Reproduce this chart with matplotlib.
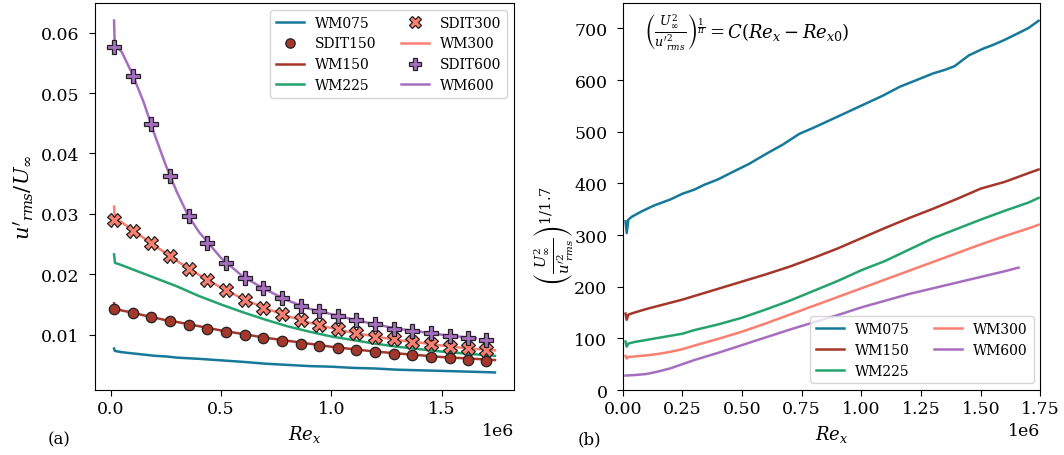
import numpy as np
import matplotlib
matplotlib.use("Agg")
import matplotlib.pyplot as plt
from matplotlib.ticker import MultipleLocator

plt.rcParams['font.family'] = ['DejaVu Serif']
plt.rcParams['mathtext.fontset'] = 'dejavuserif'
plt.rcParams['font.size'] = 12
plt.rcParams['xtick.labelsize'] = 12.5
plt.rcParams['ytick.labelsize'] = 12.5
plt.rcParams['xtick.major.size'] = 4
plt.rcParams['ytick.major.size'] = 4
plt.rcParams['ytick.major.pad'] = 7
plt.rcParams['axes.labelsize'] = 13

# ---------------- data (Re_x in units of 1e6) ----------------
# SDIT measurement stations
sdit_x = [0.015, 0.100, 0.184, 0.269, 0.353, 0.438, 0.523, 0.607, 0.692, 0.776,
          0.861, 0.946, 1.030, 1.114, 1.198, 1.283, 1.367, 1.452, 1.536, 1.621, 1.700]
sdit150 = [0.0143, 0.01364, 0.01291, 0.01225, 0.01159, 0.01099, 0.01043, 0.00988,
           0.00939, 0.00894, 0.00851, 0.00811, 0.00778, 0.0074, 0.00712, 0.00685,
           0.00657, 0.00629, 0.00608, 0.00586, 0.0057]
sdit300 = [0.02892, 0.02715, 0.02511, 0.02296, 0.02093, 0.01899, 0.01733, 0.01573,
           0.0144, 0.01336, 0.01242, 0.01154, 0.01088, 0.01022, 0.00967, 0.00922,
           0.00877, 0.00839, 0.00801, 0.00773, 0.00745]
sdit600 = [0.0577, 0.0529, 0.0448, 0.0363, 0.0296, 0.0251, 0.0219, 0.0194, 0.0177,
           0.0161, 0.0147, 0.0139, 0.0131, 0.0124, 0.0117, 0.0110, 0.0106, 0.0102,
           0.0098, 0.0095, 0.0091]

# WM turbulence intensity lines (left panel)
wm_x = [0.015, 0.019, 0.05, 0.1, 0.15, 0.2, 0.25, 0.3, 0.4, 0.5, 0.6, 0.7, 0.8, 0.9,
        1.0, 1.1, 1.2, 1.3, 1.4, 1.5, 1.6, 1.7, 1.742]
wm075 = [0.0077, 0.0073, 0.0071, 0.0069, 0.0067, 0.0065, 0.0064, 0.0062, 0.0060,
         0.00575, 0.0055, 0.0052, 0.0050, 0.0048, 0.0047, 0.0045, 0.0044, 0.0042,
         0.0041, 0.0040, 0.0039, 0.0038, 0.00375]
wm150 = [0.0152, 0.0144, 0.0140, 0.01365, 0.0132, 0.0128, 0.0124, 0.0121, 0.0114,
         0.0107, 0.0101, 0.0095, 0.0090, 0.0085, 0.0080, 0.0076, 0.0072, 0.0069,
         0.0066, 0.0063, 0.0061, 0.0059, 0.0058]
wm225 = [0.0233, 0.0219, 0.0215, 0.0208, 0.0201, 0.0194, 0.0187, 0.0180, 0.0164,
         0.0150, 0.0137, 0.0125, 0.0114, 0.0105, 0.0097, 0.0091, 0.0085, 0.0080,
         0.0076, 0.0072, 0.0069, 0.0066, 0.0065]
wm300 = [0.0312, 0.0292, 0.0286, 0.0273, 0.0260, 0.0247, 0.0235, 0.0222, 0.0199,
         0.0178, 0.0159, 0.0144, 0.0131, 0.0120, 0.0111, 0.0103, 0.0097, 0.0091,
         0.0087, 0.0082, 0.0078, 0.0075, 0.0074]
wm600_x = [0.015, 0.018, 0.05, 0.1, 0.15, 0.2, 0.25, 0.3, 0.35, 0.4, 0.5, 0.6, 0.7,
           0.8, 0.9, 1.0, 1.1, 1.2, 1.3, 1.4, 1.5, 1.6, 1.655]
wm600 = [0.0620, 0.0580, 0.0568, 0.0530, 0.0484, 0.0430, 0.0380, 0.0336, 0.0298,
         0.0270, 0.0227, 0.0196, 0.0175, 0.0157, 0.0143, 0.0134, 0.0125, 0.0117,
         0.0110, 0.0105, 0.0100, 0.0096, 0.0094]

# Transformed quantity (right panel)
r075_x = [0.012, 0.017, 0.024, 0.04, 0.08, 0.13, 0.2, 0.25, 0.3, 0.34, 0.4, 0.46,
          0.53, 0.6, 0.67, 0.74, 0.8, 0.88, 0.95, 1.02, 1.09, 1.16, 1.23, 1.3, 1.35,
          1.39, 1.45, 1.51, 1.55, 1.6, 1.67, 1.7, 1.742]
r075 = [327, 304, 330, 336, 346, 357, 369, 380, 388, 397, 408, 422, 438, 457, 475,
        496, 508, 525, 540, 555, 570, 587, 600, 613, 620, 627, 648, 661, 668, 678,
        694, 701, 715]
r_x = [0.012, 0.017, 0.024, 0.05, 0.1, 0.15, 0.2, 0.25, 0.3, 0.4, 0.5, 0.6, 0.7, 0.8,
       0.9, 1.0, 1.1, 1.2, 1.3, 1.4, 1.5, 1.6, 1.7, 1.742]
r150 = [148, 136, 146, 150, 157, 163, 169, 175, 182, 196, 210, 224, 239, 256, 274,
        294, 314, 333, 351, 370, 390, 403, 420, 427]
r225 = [94, 84, 90, 93, 97, 101, 105, 109, 116, 127, 140, 156, 173, 192, 211, 232,
        250, 272, 294, 312, 330, 347, 363, 372]
r300 = [66, 61, 64, 65, 67, 70, 74, 79, 86, 99, 113, 129, 146, 163, 180, 197, 214,
        231, 248, 265, 282, 298, 313, 320]
r600_x = [0.012, 0.05, 0.1, 0.15, 0.2, 0.25, 0.3, 0.4, 0.5, 0.6, 0.7, 0.8, 0.9, 1.0,
          1.1, 1.2, 1.3, 1.4, 1.5, 1.6, 1.658]
r600 = [28, 29, 31, 36, 42, 50, 58, 72, 87, 102, 117, 131, 145, 160, 173, 186, 197,
        208, 219, 230, 237]

c075 = '#17799a'
c150 = '#a5372a'
c225 = '#24a36e'
c300 = '#fa7f70'
c600 = '#a66ebe'

S = 1e6
fig = plt.figure(figsize=(10.64, 4.56), dpi=100)
ax1 = fig.add_axes([0.0893, 0.1425, 0.3938, 0.8487])
ax2 = fig.add_axes([0.5852, 0.1425, 0.3927, 0.8487])

lw = 1.8
ax1.plot(np.array(wm_x) * S, wm075, color=c075, lw=lw, label='WM075')
ax1.plot(np.array(sdit_x) * S, sdit150, ls='none', marker='o', ms=7.5, mfc=c150,
         mec='#222222', mew=0.9, zorder=4, label='SDIT150')
ax1.plot(np.array(wm_x) * S, wm150, color=c150, lw=lw, label='WM150')
ax1.plot(np.array(wm_x) * S, wm225, color=c225, lw=lw, label='WM225')
ax1.plot(np.array(sdit_x) * S, sdit300, ls='none', marker='X', ms=9.5, mfc=c300,
         mec='#222222', mew=0.9, zorder=4, label='SDIT300')
ax1.plot(np.array(wm_x) * S, wm300, color=c300, lw=lw, label='WM300')
ax1.plot(np.array(sdit_x) * S, sdit600, ls='none', marker='P', ms=9.5, mfc=c600,
         mec='#222222', mew=0.9, zorder=4, label='SDIT600')
ax1.plot(np.array(wm600_x) * S, wm600, color=c600, lw=lw, label='WM600')

ax1.xaxis.set_major_locator(MultipleLocator(0.5e6))
ax1.set_xlabel(r'$Re_x$')
ax1.set_ylabel(r"$u'_{rms}/U_\infty$", fontsize=15)
ax1.set_yticks([0.01, 0.02, 0.03, 0.04, 0.05, 0.06])
ax1.legend(loc='upper right', ncol=2, fontsize=10, handlelength=2.0,
           columnspacing=1.8, markerscale=0.9)
ax1.text(-0.085, -0.125, '(a)', transform=ax1.transAxes, ha='center', va='center')

ax2.plot(np.array(r075_x) * S, r075, color=c075, lw=lw, label='WM075')
ax2.plot(np.array(r_x) * S, r150, color=c150, lw=lw, label='WM150')
ax2.plot(np.array(r_x) * S, r225, color=c225, lw=lw, label='WM225')
ax2.plot(np.array(r_x) * S, r300, color=c300, lw=lw, label='WM300')
ax2.plot(np.array(r600_x) * S, r600, color=c600, lw=lw, label='WM600')
ax2.set_xlim(0, 1.75e6)
ax2.set_ylim(bottom=0)
ax2.set_xticks(np.arange(0, 1.76, 0.25) * S)
ax2.set_xlabel(r'$Re_x$')
ax2.set_ylabel(r"$\left(\frac{U_\infty^2}{u'^2_{rms}}\right)^{1/1.7}$", fontsize=15)
ax2.yaxis.set_label_coords(-0.112, 0.40)
ax2.legend(loc='lower right', ncol=2, fontsize=10, handlelength=2.0,
           columnspacing=1.8)
ax2.text(0.05, 0.925,
         r"$\left(\frac{U_\infty^2}{u'^2_{rms}}\right)^{\frac{1}{\pi}} = C(Re_x - Re_{x0})$",
         transform=ax2.transAxes, ha='left', va='center', fontsize=13)
ax2.text(-0.08, -0.125, '(b)', transform=ax2.transAxes, ha='center', va='center')

fig.savefig('out.png', dpi=100)
